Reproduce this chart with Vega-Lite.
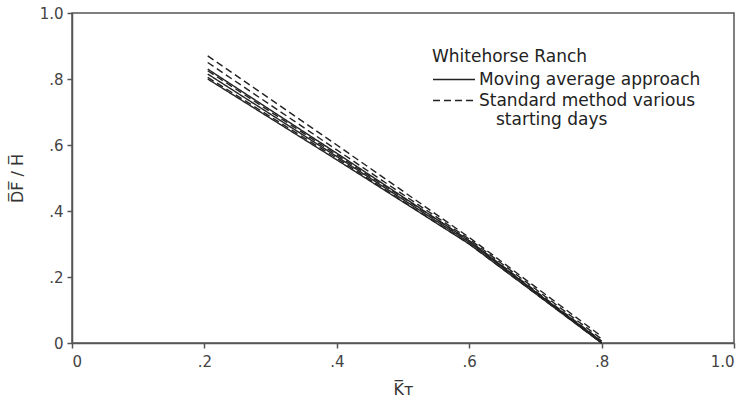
{
  "$schema": "https://vega.github.io/schema/vega-lite/v6.json",
  "width": 662,
  "height": 330,
  "autosize": {"type": "none"},
  "padding": {"left": 72, "top": 13, "right": 18, "bottom": 63},
  "background": "white",
  "config": {
    "font": "DejaVu Sans",
    "view": {"stroke": "#555", "strokeWidth": 1.5},
    "axis": {
      "grid": false,
      "domainColor": "#555",
      "domainWidth": 1.5,
      "tickColor": "#555",
      "tickWidth": 1.5,
      "tickSize": 5,
      "labelFont": "DejaVu Sans",
      "labelFontSize": 15,
      "labelColor": "#444",
      "titleFont": "DejaVu Sans",
      "titleFontSize": 16,
      "titleFontWeight": "normal",
      "titleColor": "#333"
    }
  },
  "data": {
    "values": [
      {"series": "S1", "method": "Moving average approach", "kt": 0.205, "dfh": 0.83},
      {"series": "S1", "method": "Moving average approach", "kt": 0.4, "dfh": 0.575},
      {"series": "S1", "method": "Moving average approach", "kt": 0.6, "dfh": 0.31},
      {"series": "S1", "method": "Moving average approach", "kt": 0.8, "dfh": 0.0},
      {"series": "S2", "method": "Moving average approach", "kt": 0.205, "dfh": 0.815},
      {"series": "S2", "method": "Moving average approach", "kt": 0.4, "dfh": 0.565},
      {"series": "S2", "method": "Moving average approach", "kt": 0.6, "dfh": 0.305},
      {"series": "S2", "method": "Moving average approach", "kt": 0.8, "dfh": 0.005},
      {"series": "S3", "method": "Moving average approach", "kt": 0.205, "dfh": 0.8},
      {"series": "S3", "method": "Moving average approach", "kt": 0.4, "dfh": 0.555},
      {"series": "S3", "method": "Moving average approach", "kt": 0.6, "dfh": 0.3},
      {"series": "S3", "method": "Moving average approach", "kt": 0.8, "dfh": 0.0},
      {"series": "D1", "method": "Standard method various starting days", "kt": 0.205, "dfh": 0.87},
      {"series": "D1", "method": "Standard method various starting days", "kt": 0.4, "dfh": 0.6},
      {"series": "D1", "method": "Standard method various starting days", "kt": 0.6, "dfh": 0.32},
      {"series": "D1", "method": "Standard method various starting days", "kt": 0.8, "dfh": 0.02},
      {"series": "D2", "method": "Standard method various starting days", "kt": 0.205, "dfh": 0.85},
      {"series": "D2", "method": "Standard method various starting days", "kt": 0.4, "dfh": 0.585},
      {"series": "D2", "method": "Standard method various starting days", "kt": 0.6, "dfh": 0.315},
      {"series": "D2", "method": "Standard method various starting days", "kt": 0.8, "dfh": 0.012},
      {"series": "D3", "method": "Standard method various starting days", "kt": 0.205, "dfh": 0.825},
      {"series": "D3", "method": "Standard method various starting days", "kt": 0.4, "dfh": 0.57},
      {"series": "D3", "method": "Standard method various starting days", "kt": 0.6, "dfh": 0.31},
      {"series": "D3", "method": "Standard method various starting days", "kt": 0.8, "dfh": 0.006},
      {"series": "D4", "method": "Standard method various starting days", "kt": 0.205, "dfh": 0.805},
      {"series": "D4", "method": "Standard method various starting days", "kt": 0.4, "dfh": 0.56},
      {"series": "D4", "method": "Standard method various starting days", "kt": 0.6, "dfh": 0.3},
      {"series": "D4", "method": "Standard method various starting days", "kt": 0.8, "dfh": 0.0}
    ]
  },
  "mark": {"type": "line", "color": "#222", "strokeWidth": 1.4},
  "encoding": {
    "x": {
      "field": "kt",
      "type": "quantitative",
      "scale": {"domain": [0, 1], "nice": false, "zero": false},
      "axis": {
        "values": [0, 0.2, 0.4, 0.6, 0.8, 1.0],
        "labelExpr": "datum.value == 0 ? '0' : datum.value == 1 ? '1.0' : replace(format(datum.value, '.1f'), '0.', '.')",
        "title": "K̅ᴛ",
        "titlePadding": 12,
        "labelPadding": 6
      }
    },
    "y": {
      "field": "dfh",
      "type": "quantitative",
      "scale": {"domain": [0, 1], "nice": false, "zero": false},
      "axis": {
        "values": [0, 0.2, 0.4, 0.6, 0.8, 1.0],
        "labelExpr": "datum.value == 0 ? '0' : datum.value == 1 ? '1.0' : replace(format(datum.value, '.1f'), '0.', '.')",
        "title": "D̅F̅ / H̅",
        "titlePadding": 14,
        "labelPadding": 4
      }
    },
    "detail": {"field": "series"},
    "strokeDash": {
      "field": "method",
      "type": "nominal",
      "scale": {
        "domain": ["Moving average approach", "Standard method various starting days"],
        "range": [[1, 0], [7, 4]]
      },
      "legend": {
        "title": "Whitehorse Ranch",
        "orient": "none",
        "legendX": 360,
        "legendY": 36,
        "symbolType": "M-1,0H3",
        "symbolSize": 441,
        "symbolStrokeColor": "#222",
        "symbolStrokeWidth": 1.5,
        "labelExpr": "datum.label == 'Standard method various starting days' ? ['Standard method various', '\u200b\u2002\u2002starting days'] : datum.label",
        "labelFont": "DejaVu Sans",
        "labelFontSize": 17,
        "labelColor": "#222",
        "labelOffset": 24,
        "labelLimit": 400,
        "titleFont": "DejaVu Sans",
        "titleFontSize": 17,
        "titleFontWeight": "normal",
        "titleColor": "#222",
        "titlePadding": 2,
        "rowPadding": 1,
        "padding": 0,
        "offset": 0
      }
    }
  }
}
